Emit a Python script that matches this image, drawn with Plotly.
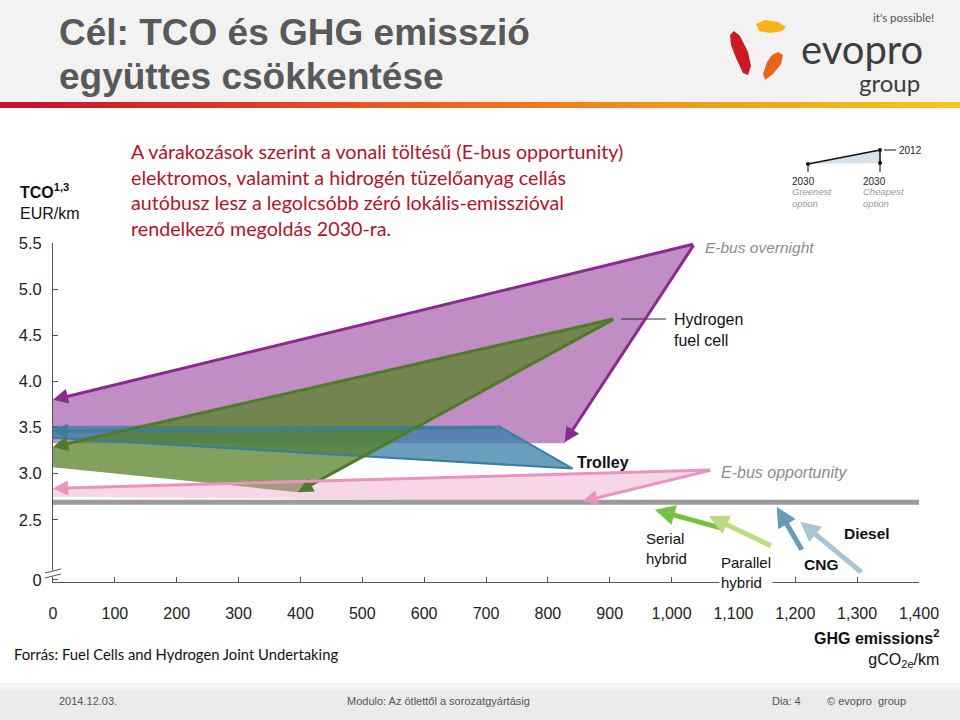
import plotly.graph_objects as go

# ---------------- data ----------------
# polygons: [greenest 2030, 2012, cheapest 2030, lower-left corner]
overnight_ghg = [0, 1037, 827, 0]
overnight_tco = [3.80, 5.49, 3.33, 3.33]
hydrogen_ghg = [0, 908, 396, 0]
hydrogen_tco = [3.29, 4.68, 2.80, 3.07]
trolley_ghg = [0, 719, 840, 0]
trolley_tco = [3.52, 3.52, 3.055, 3.39]
opportunity_ghg = [0, 1065, 856, 0]
opportunity_tco = [2.84, 3.04, 2.70, 2.75]
trolley_arrow_ghg = [719, 0]
trolley_arrow_tco = [3.50, 3.46]

diesel_line_ghg = [0, 1400]
diesel_line_tco = [2.69, 2.69]

hybrid_names = ["Serial hybrid", "Parallel hybrid", "CNG", "Diesel"]
hybrid_tail_ghg = [1086, 1163, 1212, 1309]
hybrid_tail_tco = [2.40, 2.21, 2.16, 1.92]
hybrid_tip_ghg = [973, 1060, 1170, 1208]
hybrid_tip_tco = [2.61, 2.54, 2.64, 2.48]
hybrid_colors = ["#79c143", "#bcdc80", "#6b9ab5", "#a9c4d4"]

x_ticks = list(range(0, 1401, 100))
y_tick_vals = [1.85, 2.5, 3.0, 3.5, 4.0, 4.5, 5.0, 5.5]
y_tick_text = ["0", "2.5", "3.0", "3.5", "4.0", "4.5", "5.0", "5.5"]

W, H = 960, 720
def px(x): return x / W
def py(y): return 1 - y / H

ARIAL = "Arial, Liberation Sans, sans-serif"
CAL = "Lato, Carlito, Calibri, sans-serif"

fig = go.Figure()

def poly(xs, ys, fill):
    fig.add_trace(go.Scatter(x=xs + [xs[0]], y=ys + [ys[0]], mode="lines", fill="toself",
                             fillcolor=fill, line=dict(width=0), hoverinfo="skip", showlegend=False))

poly(overnight_ghg, overnight_tco, "rgba(140,50,150,0.55)")
poly(trolley_ghg, trolley_tco, "rgba(55,125,168,0.75)")
poly(hydrogen_ghg, hydrogen_tco, "rgba(88,128,40,0.75)")
poly(opportunity_ghg, opportunity_tco, "rgba(232,140,190,0.36)")

# trolley edges
fig.add_trace(go.Scatter(x=[trolley_ghg[1], trolley_ghg[2], trolley_ghg[3]],
                         y=[trolley_tco[1], trolley_tco[2], trolley_tco[3]], mode="lines",
                         line=dict(color="#3b7d9e", width=2), hoverinfo="skip", showlegend=False))

fig.add_trace(go.Scatter(x=diesel_line_ghg, y=diesel_line_tco, mode="lines",
                         line=dict(color="#9b9b9b", width=5), hoverinfo="skip", showlegend=False))

annotations = []
def arrow(x0, y0, x1, y1, color, width=3, size=1.0):
    annotations.append(dict(x=x1, y=y1, ax=x0, ay=y0, xref="x", yref="y", axref="x", ayref="y",
                            text="", showarrow=True, arrowhead=2, arrowsize=size,
                            arrowwidth=width, arrowcolor=color, standoff=0, startstandoff=0))

arrow(overnight_ghg[1], overnight_tco[1], overnight_ghg[0], overnight_tco[0], "#8b2a8e")
arrow(overnight_ghg[1], overnight_tco[1], overnight_ghg[2], overnight_tco[2] + 0.01, "#8b2a8e")
arrow(trolley_arrow_ghg[0], trolley_arrow_tco[0], trolley_arrow_ghg[1], trolley_arrow_tco[1], "#3b7d9e")
arrow(hydrogen_ghg[1], hydrogen_tco[1], hydrogen_ghg[0], hydrogen_tco[0], "#4f7a28")
arrow(hydrogen_ghg[1], hydrogen_tco[1], hydrogen_ghg[2], hydrogen_tco[2], "#4f7a28")
arrow(opportunity_ghg[1], opportunity_tco[1], opportunity_ghg[0], opportunity_tco[0], "#e893c0")
arrow(opportunity_ghg[1], opportunity_tco[1], opportunity_ghg[2], opportunity_tco[2], "#e893c0")
for i in range(len(hybrid_names)):
    arrow(hybrid_tail_ghg[i], hybrid_tail_tco[i], hybrid_tip_ghg[i], hybrid_tip_tco[i],
          hybrid_colors[i], width=5, size=0.8)

def text(x, y, s, size=16, color="#000", family=ARIAL, anchor="left", yanchor="middle", bg=None, **kw):
    d = dict(x=px(x), y=py(y), xref="paper", yref="paper", text=s, showarrow=False,
             xanchor=anchor, yanchor=yanchor, font=dict(size=size, color=color, family=family), **kw)
    if bg:
        d["bgcolor"] = bg
    annotations.append(d)

# chart labels
text(703, 247, "<i>E-bus overnight</i>", 15.5, "#8c8c8c", ARIAL)
text(672, 330, "Hydrogen<br>fuel cell", 16, "#111", ARIAL, align="left")
text(575, 462, "<b>Trolley</b>", 16, "#111", ARIAL)
text(719, 472, "<i>E-bus opportunity</i>", 16, "#8c8c8c", ARIAL)
text(644, 548, "Serial<br>hybrid", 15, "#111", ARIAL, align="left")
text(719, 572, "Parallel<br>hybrid", 15, "#111", ARIAL, align="left", bg="white")
text(802, 564, "<b>CNG</b>", 15.5, "#111", ARIAL)
text(842, 533, "<b>Diesel</b>", 15.5, "#111", ARIAL)
text(18, 201, "<b>TCO<sup>1,3</sup></b><br>EUR/km", 16, "#111", ARIAL, align="left")
text(941, 648, "<b>GHG emissions<sup>2</sup></b><br>gCO<sub>2e</sub>/km", 16, "#111", ARIAL,
     anchor="right", align="right")

# titles and notes
text(57, 33, "<b>Cél: TCO és GHG emisszió</b>", 37, "#595959", ARIAL)
text(57, 77, "<b>együttes csökkentése</b>", 37, "#595959", ARIAL)
text(129, 190, "A várakozások szerint a vonali töltésű (E-bus opportunity)<br>"
               "elektromos, valamint a hidrogén tüzelőanyag cellás<br>"
               "autóbusz lesz a legolcsóbb zéró lokális-emisszióval<br>"
               "rendelkező megoldás 2030-ra.", 19.7, "#b3132c", CAL, align="left")
text(12, 654, "Forrás: Fuel Cells and Hydrogen Joint Undertaking", 14.8, "#111", CAL)

# footer
text(57, 701, "2014.12.03.", 11, "#555", ARIAL)
text(345, 701, "Modulo: Az ötlettől a sorozatgyártásig", 11, "#555", ARIAL)
text(770, 701, "Dia: 4", 11, "#555", ARIAL)
text(825, 701, "© evopro  group", 11, "#555", ARIAL)

# logo texts
text(799, 49, "evopro", 40, "#3d3d3d", "Lato, sans-serif")
text(922, 82, "group", 24, "#3d3d3d", "Lato, sans-serif", anchor="right")
text(936, 17, "it's possible!", 11.5, "#555", "Lato, sans-serif", anchor="right")

# mini legend texts
text(897, 150, "2012", 10, "#222", ARIAL)
text(790, 181, "2030", 10, "#222", ARIAL)
text(790, 197, "<i>Greenest<br>option</i>", 9.5, "#999", ARIAL, align="left")
text(861, 181, "2030", 10, "#222", ARIAL)
text(861, 197, "<i>Cheapest<br>option</i>", 9.5, "#999", ARIAL, align="left")

shapes = []
# header background and gradient bar
shapes.append(dict(type="rect", xref="paper", yref="paper", x0=0, x1=1, y0=py(103), y1=1,
                   fillcolor="#f2f2f2", line=dict(width=0), layer="below"))
grad = [(200, 16, 46), (222, 60, 38), (236, 110, 30), (243, 160, 24), (247, 196, 30)]
N = 48
for i in range(N):
    t = i / (N - 1) * (len(grad) - 1)
    k = min(int(t), len(grad) - 2)
    f = t - k
    c = tuple(int(grad[k][j] + (grad[k + 1][j] - grad[k][j]) * f) for j in range(3))
    shapes.append(dict(type="rect", xref="paper", yref="paper", x0=i / N, x1=(i + 1) / N + 0.001,
                       y0=py(108), y1=py(102), fillcolor="rgb(%d,%d,%d)" % c, line=dict(width=0),
                       layer="below"))
# footer band
shapes.append(dict(type="rect", xref="paper", yref="paper", x0=0, x1=1, y0=0, y1=py(683),
                   fillcolor="#ebebeb", line=dict(width=0), layer="below"))
shapes.append(dict(type="rect", xref="paper", yref="paper", x0=0, x1=1, y0=py(690), y1=py(683),
                   fillcolor="#f3f3f3", line=dict(width=0), layer="below"))

# logo petals
def path(pts, color):
    d = "M " + " L ".join("%f,%f" % (px(a), py(b)) for a, b in pts) + " Z"
    shapes.append(dict(type="path", xref="paper", yref="paper", path=d, fillcolor=color,
                       line=dict(width=0)))
path([(756, 24), (765, 20), (778, 22), (786, 27), (782, 31), (770, 33), (759, 31)], "#f6b11b")
path([(730, 35), (734, 31), (740, 36), (748, 52), (751, 66), (748, 75), (743, 73), (736, 58), (731, 45)], "#cc1a22")
path([(778, 52), (783, 55), (781, 64), (773, 74), (765, 80), (763, 74), (767, 62), (772, 55)], "#e8641b")

# mini legend
path([(808, 164), (880, 150), (880, 163)], "#d6e1e9")
def seg(x0, y0, x1, y1, color="#111", w=1.5):
    shapes.append(dict(type="line", xref="paper", yref="paper", x0=px(x0), y0=py(y0), x1=px(x1),
                       y1=py(y1), line=dict(color=color, width=w)))
seg(808, 164, 880, 150)
seg(880, 150, 880, 163)
seg(808, 164, 808, 172, w=1)
seg(880, 163, 880, 172, w=1)
seg(884, 150, 896, 150, w=1)
for (a, b) in [(808, 164), (880, 150), (880, 163)]:
    shapes.append(dict(type="circle", xref="paper", yref="paper", x0=px(a - 2), x1=px(a + 2),
                       y0=py(b + 2), y1=py(b - 2), fillcolor="#111", line=dict(width=0)))

# hydrogen leader line
seg(621, 319, 666, 319, "#333", 1.2)

# axis break marks
shapes.append(dict(type="rect", xref="paper", yref="paper", x0=px(44), x1=px(62), y0=py(577),
                   y1=py(570), fillcolor="white", line=dict(width=0)))
seg(45, 573, 61, 569, "#555", 1.2)
seg(45, 578, 61, 574, "#555", 1.2)

fig.update_layout(
    width=W, height=H, margin=dict(l=0, r=0, t=0, b=0, autoexpand=False),
    paper_bgcolor="white", plot_bgcolor="rgba(0,0,0,0)",
    showlegend=False, annotations=annotations, shapes=shapes,
    xaxis=dict(domain=[px(53), px(919)], range=[0, 1400], tickvals=x_ticks, tickformat=",",
               showline=True, linecolor="#555", linewidth=1, ticks="inside", ticklen=5,
               tickcolor="#555", showgrid=False, zeroline=False, ticklabelstandoff=17,
               automargin=False, tickfont=dict(family=ARIAL, size=16, color="#222")),
    yaxis=dict(domain=[py(582), py(243)], range=[1.826, 5.5], tickvals=y_tick_vals,
               ticktext=y_tick_text, showline=True, linecolor="#555", linewidth=1,
               ticks="inside", ticklen=5, tickcolor="#555", showgrid=False, zeroline=False,
               automargin=False, ticklabelstandoff=7,
               tickfont=dict(family=ARIAL, size=16.5, color="#222")),
)

fig.write_html("out.html", config={"displayModeBar": False},
               post_script="document.body.style.margin='0';document.body.style.overflow='hidden';")
